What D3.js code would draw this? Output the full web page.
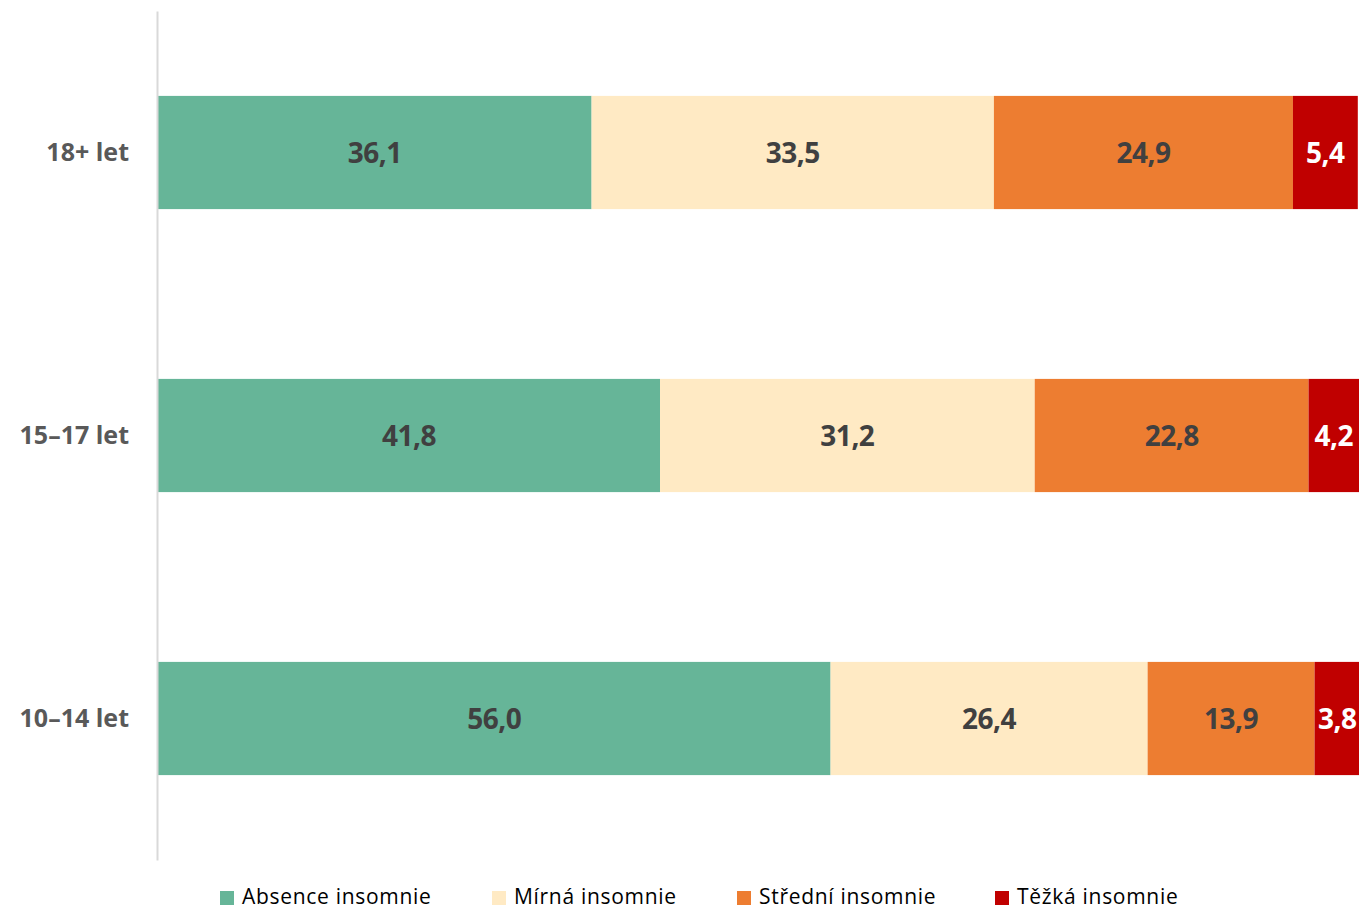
<!DOCTYPE html>
<html>
<head>
<meta charset="utf-8">
<script src="https://cdn.jsdelivr.net/npm/d3@7"></script>
<style>
  body { margin: 0; background: #fff; }
  svg { display: block; font-family: "Open Sans", "Noto Sans", sans-serif; }
</style>
</head>
<body>
<svg id="chart"></svg>
<script>
// Data
const categories = ['18+ let', '15–17 let', '10–14 let'];
const seriesNames = ['Absence insomnie', 'Mírná insomnie', 'Střední insomnie', 'Těžká insomnie'];
const absence = [36.1, 41.8, 56.0];
const mirna = [33.5, 31.2, 26.4];
const stredni = [24.9, 22.8, 13.9];
const tezka = [5.4, 4.2, 3.8];
const colors = ['#66b598', '#ffeac4', '#ed7d31', '#c00000'];
const labelColors = ['#404040', '#404040', '#404040', '#ffffff'];

const width = 1359, height = 910;
const margin = {top: 11, right: 0, bottom: 50, left: 158};

const svg = d3.select('#chart').attr('width', width).attr('height', height);

const rows = categories.map((c, i) => ({
  cat: c, values: [absence[i], mirna[i], stredni[i], tezka[i]]
}));

const x = d3.scaleLinear().domain([0, 100]).range([margin.left, 1359]);
const y = d3.scaleBand().domain(categories).range([margin.top, height - margin.bottom]).paddingInner(0.6).paddingOuter(0.3);

// stacked segments
const segs = [];
rows.forEach(r => {
  let acc = 0;
  r.values.forEach((v, k) => {
    segs.push({cat: r.cat, k, x0: acc, x1: acc + v, v});
    acc += v;
  });
});

svg.append('g').selectAll('rect')
  .data(segs)
  .join('rect')
  .attr('x', d => x(d.x0))
  .attr('width', d => x(d.x1) - x(d.x0))
  .attr('y', d => y(d.cat))
  .attr('height', y.bandwidth())
  .attr('fill', d => colors[d.k]);

svg.append('g').selectAll('text')
  .data(segs)
  .join('text')
  .attr('x', d => (x(d.x0) + x(d.x1)) / 2)
  .attr('y', d => y(d.cat) + y.bandwidth() / 2)
  .attr('dy', '0.36em')
  .attr('text-anchor', 'middle')
  .style('font-size', '28px')
  .style('font-weight', 'bold')
  .style('letter-spacing', '-0.5px')
  .attr('fill', d => labelColors[d.k])
  .text(d => d.v.toFixed(1).replace('.', ','));

// y axis
const yAxis = d3.axisLeft(y).tickSize(0).tickPadding(28);
const yG = svg.append('g')
  .attr('transform', `translate(${margin.left - 1},0)`)
  .call(yAxis);
yG.select('.domain').attr('stroke', '#d9d9d9').attr('stroke-width', 2);
yG.selectAll('text')
  .style('font-size', '25px')
  .style('font-weight', 'bold')
  .style('font-family', '"Open Sans", sans-serif')
  .attr('fill', '#595959');

// legend
const legendX = [220, 492, 737, 995];
const legend = svg.append('g').attr('transform', `translate(0,893)`);
seriesNames.forEach((n, i) => {
  const g = legend.append('g').attr('transform', `translate(${legendX[i]},0)`);
  g.append('rect').attr('x', 0).attr('y', -2).attr('width', 14).attr('height', 14).attr('fill', colors[i]);
  g.append('text')
    .attr('x', 22).attr('y', 3).attr('dy', '0.36em')
    .style('font-size', '21px')
    .style('letter-spacing', '0.7px')
    .attr('fill', '#000')
    .text(n);
});
</script>
</body>
</html>
